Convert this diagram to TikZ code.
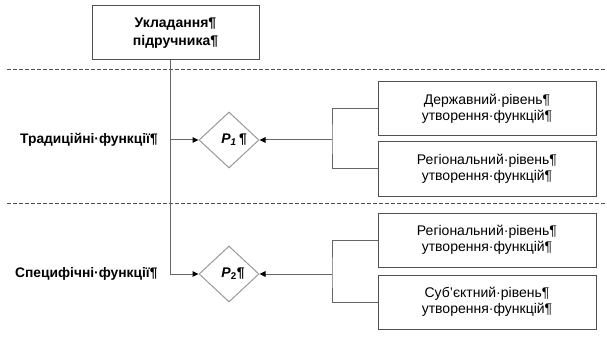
\documentclass[tikz,border=0pt]{standalone}
\usepackage{fontspec}
\setmainfont{Liberation Sans}
\usetikzlibrary{shapes.geometric,arrows.meta}
\definecolor{boxgray}{HTML}{505050}
\definecolor{linegray}{HTML}{666666}
\definecolor{diagray}{HTML}{999999}
\tikzset{
  box/.style={draw=boxgray, line width=1pt, minimum width=218pt, minimum height=54pt, inner sep=0pt, align=center, font=\fontsize{14}{16.5}\selectfont},
  topbox/.style={draw=boxgray, line width=1pt, minimum width=167pt, minimum height=54pt, inner sep=0pt, align=center, font=\bfseries\fontsize{14}{18}\selectfont},
  dia/.style={draw=diagray, line width=1pt, diamond, minimum width=60pt, minimum height=56pt, inner sep=0pt, aspect=1.07},
  lab/.style={font=\bfseries\fontsize{13.8}{16}\selectfont, inner sep=0pt},
  plab/.style={font=\bfseries\itshape\fontsize{14}{16}\selectfont, inner sep=0pt},
  conn/.style={draw=linegray, line width=1pt},
  arr/.style={conn, -{Triangle[length=6pt,width=5.5pt,fill=black,color=black]}},
  sep/.style={draw=boxgray, line width=0.9pt, dash pattern=on 4pt off 2pt}
}
\begin{document}
\begin{tikzpicture}[x=1pt,y=-1pt]
\useasboundingbox (0,0) rectangle (607,339);
% separators
\draw[sep] (7,69) -- (607,69);
\draw[sep] (7,203) -- (607,203);
% top box
\node[topbox] (top) at (175.5,33) {Укладання¶\\підручника¶};
% diamonds
\node[dia] (p1) at (229,140) {};
\node[plab] (p1t) at (234,140) {P\textsubscript{1}\,¶};
\node[dia] (p2) at (229,274) {};
\node[plab] (p2t) at (233,274) {P\textsubscript{\upshape 2}{\upshape ¶}};
% left labels
\node[lab, anchor=west] (trad) at (20,140) {Традиційні·функції¶};
\node[lab, anchor=west] (spec) at (15,274) {Специфічні·функції¶};
% right boxes
\node[box] (b1) at (487,109) {Державний·рівень¶\\утворення·функцій¶};
\node[box] (b2) at (487,169) {Регіональний·рівень¶\\утворення·функцій¶};
\node[box] (b3) at (487,240) {Регіональний·рівень¶\\утворення·функцій¶};
\node[box] (b4) at (487,302) {Суб’єктний·рівень¶\\утворення·функцій¶};
% left trunk
\coordinate (v) at (170,60);
\draw[arr] (v) |- (p2.west);
\draw[arr] (v |- p1.west) -- (p1.west);
% brackets
\coordinate (j1) at (332,140);
\coordinate (j2) at (332,274);
\draw[conn] (b1.west) -| (j1) |- (b2.west);
\draw[arr] (j1) -- (p1.east);
\draw[conn] (b3.west) -| (j2) |- (b4.west);
\draw[arr] (j2) -- (p2.east);
\end{tikzpicture}
\end{document}
